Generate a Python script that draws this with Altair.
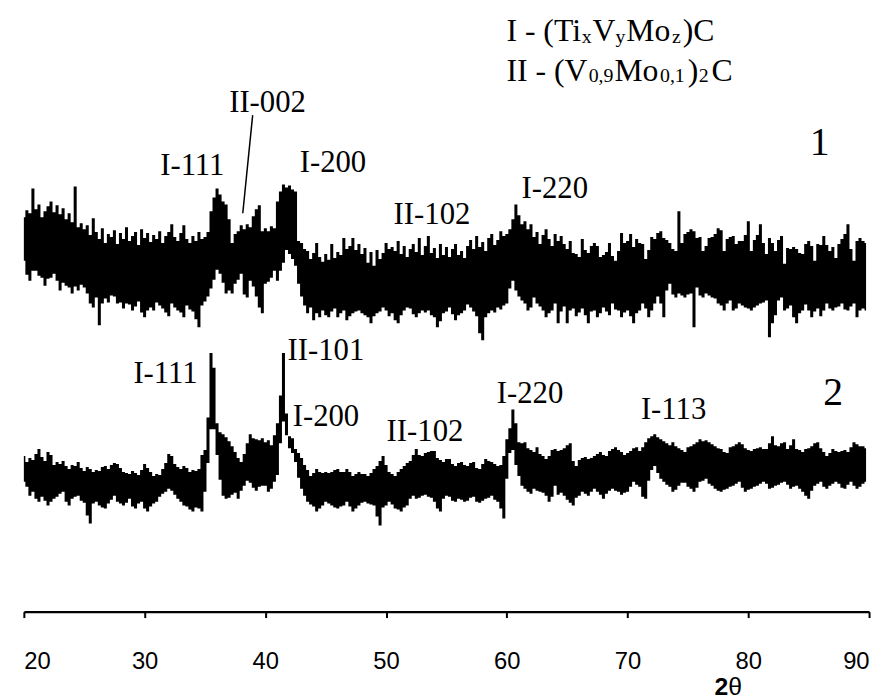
import altair as alt
import pandas as pd

# ---------------- data ----------------
START_DEG = 20.0
STEP_DEG = 0.25

# pattern 1: upper / lower envelope of the noisy trace (arbitrary intensity units)
U1 = [398, 405, 402, 427, 406, 411, 398, 404, 409, 414, 403, 410, 401, 407, 396, 402, 393, 429, 388, 392,
      386, 390, 380, 397, 383, 376, 387, 372, 381, 378, 385, 371, 382, 376, 388, 374, 379, 383, 370, 386,
      377, 382, 373, 380, 376, 384, 372, 379, 383, 391, 378, 374, 382, 390, 376, 372, 379, 374, 383, 376,
      378, 383, 404, 418, 427, 421, 414, 411, 396, 372, 381, 384, 390, 386, 391, 388, 399, 406, 410, 384,
      387, 384, 389, 387, 414, 424, 431, 428, 430, 426, 424, 374, 372, 366, 364, 356, 362, 372, 358, 353,
      361, 355, 371, 357, 363, 360, 377, 366, 369, 377, 365, 371, 361, 367, 352, 363, 349, 365, 356, 362,
      372, 366, 368, 364, 374, 361, 369, 358, 366, 371, 363, 377, 360, 369, 379, 362, 367, 357, 371, 360,
      368, 358, 366, 371, 360, 364, 357, 369, 375, 366, 379, 368, 373, 364, 377, 381, 370, 375, 384, 379,
      381, 386, 396, 411, 400, 391, 394, 386, 391, 378, 383, 371, 380, 386, 376, 369, 381, 374, 379, 371,
      366, 374, 362, 361, 358, 376, 365, 362, 369, 372, 369, 358, 360, 363, 372, 359, 354, 364, 382, 372,
      374, 381, 368, 376, 372, 371, 356, 365, 378, 376, 382, 384, 377, 375, 372, 366, 364, 404, 372, 381,
      383, 386, 384, 377, 378, 364, 369, 377, 378, 381, 387, 385, 364, 376, 378, 379, 371, 374, 374, 380,
      394, 364, 375, 380, 391, 372, 361, 377, 372, 364, 375, 379, 351, 367, 366, 368, 366, 362, 361, 371,
      374, 369, 354, 371, 370, 379, 370, 364, 368, 357, 371, 376, 381, 391, 366, 354, 374, 377, 374, 372]
L1 = [354, 340, 334, 344, 344, 339, 337, 329, 336, 337, 341, 334, 324, 332, 329, 327, 321, 328, 324, 330,
      327, 321, 311, 307, 317, 289, 311, 316, 312, 319, 318, 311, 312, 306, 311, 310, 304, 308, 313, 302,
      297, 304, 307, 304, 312, 309, 306, 302, 298, 311, 307, 304, 302, 297, 309, 305, 303, 295, 287, 309,
      313, 318, 326, 335, 345, 341, 332, 321, 324, 321, 331, 335, 341, 320, 317, 334, 328, 318, 307, 301,
      331, 333, 337, 344, 334, 344, 352, 365, 361, 356, 349, 331, 318, 309, 301, 307, 294, 301, 297, 304,
      299, 297, 303, 306, 297, 301, 304, 294, 298, 301, 303, 304, 301, 299, 297, 291, 298, 301, 303, 307,
      304, 298, 301, 294, 291, 299, 304, 307, 306, 300, 297, 301, 304, 302, 304, 299, 297, 287, 293, 301,
      303, 307, 300, 294, 299, 301, 304, 310, 307, 303, 298, 281, 274, 297, 301, 304, 302, 307, 305, 309,
      311, 326, 334, 324, 318, 314, 311, 304, 307, 317, 311, 308, 304, 297, 301, 304, 311, 291, 303, 308,
      291, 304, 306, 298, 302, 306, 299, 291, 303, 304, 297, 301, 307, 303, 299, 311, 305, 304, 297, 302,
      304, 298, 291, 301, 304, 311, 306, 297, 304, 311, 318, 311, 297, 324, 331, 320, 317, 321, 319, 317,
      320, 321, 287, 327, 319, 317, 321, 319, 317, 316, 311, 309, 304, 311, 314, 304, 306, 311, 309, 307,
      306, 304, 307, 309, 311, 312, 314, 277, 291, 299, 314, 317, 304, 306, 309, 297, 291, 301, 304, 310,
      304, 297, 303, 306, 298, 304, 311, 306, 304, 307, 308, 311, 305, 304, 308, 311, 297, 304, 306, 304]

# pattern 2
U2 = [157, 151, 155, 153, 159, 164, 156, 152, 161, 158, 148, 151, 149, 152, 147, 144, 148, 147, 151, 145,
      142, 146, 144, 141, 143, 142, 146, 147, 144, 148, 150, 149, 145, 141, 140, 139, 142, 140, 138, 143,
      149, 145, 141, 137, 139, 138, 144, 150, 159, 157, 149, 146, 144, 147, 145, 141, 143, 142, 144, 158,
      163, 196, 261, 246, 190, 181, 179, 176, 172, 167, 161, 155, 151, 159, 170, 179, 175, 174, 173, 175,
      171, 173, 168, 178, 190, 218, 261, 200, 177, 175, 164, 160, 155, 148, 143, 137, 140, 144, 141, 140,
      141, 140, 141, 143, 144, 141, 141, 144, 141, 137, 139, 141, 139, 139, 137, 140, 144, 147, 152, 157,
      148, 141, 139, 137, 141, 144, 147, 150, 152, 158, 164, 158, 157, 160, 161, 162, 162, 155, 153, 151,
      154, 154, 149, 147, 150, 151, 148, 147, 150, 151, 145, 144, 149, 154, 152, 151, 149, 147, 148, 157,
      174, 185, 204, 190, 171, 170, 171, 165, 163, 161, 166, 159, 157, 154, 157, 163, 164, 162, 163, 165,
      168, 170, 152, 147, 153, 155, 156, 154, 155, 157, 159, 161, 158, 157, 162, 164, 166, 163, 161, 158,
      160, 162, 165, 166, 162, 166, 171, 175, 177, 179, 176, 174, 172, 170, 168, 171, 167, 165, 163, 161,
      166, 167, 169, 171, 174, 172, 173, 171, 169, 167, 165, 164, 161, 160, 166, 167, 169, 171, 169, 165,
      163, 162, 164, 165, 166, 164, 164, 170, 177, 168, 167, 170, 171, 164, 168, 174, 164, 163, 161, 164,
      165, 167, 170, 171, 165, 161, 157, 160, 164, 162, 161, 162, 163, 161, 166, 171, 169, 167, 167, 165]
L2 = [131, 126, 117, 121, 114, 111, 116, 112, 107, 111, 114, 116, 119, 121, 111, 107, 114, 116, 117, 112,
      110, 97, 89, 109, 111, 107, 105, 104, 109, 113, 117, 111, 109, 107, 110, 114, 106, 104, 109, 111,
      104, 101, 106, 109, 111, 116, 119, 121, 124, 122, 118, 114, 111, 107, 106, 103, 101, 105, 104, 101,
      121, 150, 184, 184, 158, 133, 117, 114, 115, 118, 120, 114, 122, 127, 132, 130, 125, 122, 126, 127,
      127, 121, 124, 131, 138, 170, 192, 178, 165, 160, 151, 135, 124, 117, 111, 108, 106, 101, 104, 107,
      111, 109, 107, 105, 104, 106, 107, 111, 106, 101, 104, 107, 110, 111, 109, 108, 107, 96, 87, 105,
      107, 111, 108, 104, 103, 101, 105, 107, 114, 117, 114, 115, 117, 118, 116, 115, 111, 104, 101, 114,
      117, 116, 112, 111, 114, 113, 111, 112, 115, 116, 111, 110, 112, 114, 115, 117, 113, 111, 104, 94,
      134, 160, 163, 148, 137, 127, 124, 121, 119, 124, 122, 121, 120, 117, 111, 116, 127, 118, 120, 117,
      113, 110, 107, 115, 117, 121, 119, 117, 121, 124, 121, 118, 114, 119, 122, 124, 122, 121, 118, 120,
      121, 126, 131, 128, 126, 116, 114, 132, 143, 147, 140, 134, 131, 128, 126, 121, 123, 127, 130, 130,
      126, 124, 121, 125, 131, 132, 134, 129, 127, 124, 122, 121, 123, 124, 126, 127, 129, 131, 125, 121,
      123, 124, 126, 127, 129, 131, 129, 124, 125, 127, 128, 130, 131, 128, 124, 126, 127, 124, 121, 117,
      114, 122, 127, 129, 131, 126, 124, 127, 129, 131, 129, 125, 124, 128, 131, 127, 124, 126, 129, 131]

TICKS = [20, 30, 40, 50, 60, 70, 80, 90]

# peak labels: text, 2theta position, intensity of the label baseline
PEAK_TEXT = ["I-111", "II-002", "I-200", "II-102", "I-220",
             "I-111", "II-101", "I-200", "II-102", "I-220", "I-113"]
PEAK_DEG = [33.95, 40.18, 45.6, 53.8, 63.97,
            31.73, 45.02, 45.02, 53.22, 61.92, 73.81]
PEAK_VAL = [441, 504, 444, 391, 417,
            231, 254, 187, 172, 211, 194]

CURVE_TEXT = ["1", "2"]
CURVE_DEG = [85.9, 87.02]
CURVE_VAL = [461, 209]

# leader line from "II-002"
LEAD_DEG = [38.95, 38.13]
LEAD_VAL = [501, 402]

# ---------------- layout helpers ----------------
W, H = 853, 606
X0, Y0 = 24, 8           # page position of plot area's top-left corner
DOM = [20, 90]
VDOM = [0, H]
SANS = "Liberation Sans, Arial, sans-serif"


def px_to_deg(px):
    return DOM[0] + (px - X0) * (DOM[1] - DOM[0]) / W


def py_to_val(py):
    return (Y0 + H) - py


n = len(U1)
deg = [START_DEG + STEP_DEG * i for i in range(n)]
df = pd.DataFrame({
    "deg": deg * 2,
    "hi": U1 + U2,
    "lo": L1 + L2,
    "trace": ["1"] * n + ["2"] * n,
})

xs = alt.Scale(domain=DOM, nice=False, zero=False)
ys = alt.Scale(domain=VDOM, nice=False, zero=False)

traces = alt.Chart(df).mark_area(interpolate="step", color="black", opacity=1).encode(
    x=alt.X("deg:Q", scale=xs, axis=alt.Axis(
        values=TICKS, title=None, grid=False,
        labelFont=SANS,
        labelFontSize=24, labelColor="black", labelPadding=32,
        domainColor="black", domainWidth=2.5,
        tickColor="black", tickWidth=2, tickSize=6)),
    y=alt.Y("hi:Q", scale=ys, axis=None),
    y2="lo:Q",
    detail="trace:N",
)

lab_df = pd.DataFrame({"deg": PEAK_DEG, "val": PEAK_VAL, "t": PEAK_TEXT})
labels = alt.Chart(lab_df).mark_text(
    font="Liberation Serif", fontSize=31, align="center", baseline="alphabetic", color="black"
).encode(x=alt.X("deg:Q", scale=xs), y=alt.Y("val:Q", scale=ys), text="t:N")

cur_df = pd.DataFrame({"deg": CURVE_DEG, "val": CURVE_VAL, "t": CURVE_TEXT})
curve_lab = alt.Chart(cur_df).mark_text(
    font="Liberation Serif", fontSize=40, align="center", baseline="alphabetic", color="black"
).encode(x=alt.X("deg:Q", scale=xs), y=alt.Y("val:Q", scale=ys), text="t:N")

lead_df = pd.DataFrame({"d1": [LEAD_DEG[0]], "v1": [LEAD_VAL[0]],
                        "d2": [LEAD_DEG[1]], "v2": [LEAD_VAL[1]]})
leader = alt.Chart(lead_df).mark_rule(color="black", strokeWidth=1.5).encode(
    x=alt.X("d1:Q", scale=xs), y=alt.Y("v1:Q", scale=ys), x2="d2:Q", y2="v2:Q")

# legend (phase names) built from normal-size pieces and subscript pieces
big_pieces = [("I - (Ti", 511, 38), ("V", 598, 38), ("Mo", 632, 38), (")C", 689, 38),
              ("II - (V", 511, 78), ("Mo", 620, 78), (")", 694, 78), ("C", 718, 78)]
sub_pieces = [("x", 587, 40), ("y", 621, 40), ("z", 678, 40),
              ("0,9", 594, 80), ("0,1", 666, 80), ("2", 705, 80)]

big_df = pd.DataFrame({"t": [p[0] for p in big_pieces],
                       "deg": [px_to_deg(p[1]) for p in big_pieces],
                       "val": [py_to_val(p[2]) for p in big_pieces]})
sub_df = pd.DataFrame({"t": [p[0] for p in sub_pieces],
                       "deg": [px_to_deg(p[1]) for p in sub_pieces],
                       "val": [py_to_val(p[2]) for p in sub_pieces]})

leg_big = alt.Chart(big_df).mark_text(
    font="Liberation Serif", fontSize=32, align="left", baseline="alphabetic", color="black"
).encode(x=alt.X("deg:Q", scale=xs), y=alt.Y("val:Q", scale=ys), text="t:N")
leg_sub = alt.Chart(sub_df).mark_text(
    font="Liberation Serif", fontSize=20, align="left", baseline="alphabetic", color="black"
).encode(x=alt.X("deg:Q", scale=xs), y=alt.Y("val:Q", scale=ys), text="t:N")

# axis title 2θ
t2_df = pd.DataFrame({"t": ["2"], "deg": [px_to_deg(735)], "val": [py_to_val(698)]})
th_df = pd.DataFrame({"t": ["θ"], "deg": [px_to_deg(735)], "val": [py_to_val(698)]})
title2 = alt.Chart(t2_df).mark_text(
    font=SANS, fontSize=25, fontWeight="bold", align="right", baseline="alphabetic", color="black"
).encode(x=alt.X("deg:Q", scale=xs), y=alt.Y("val:Q", scale=ys), text="t:N")
titleth = alt.Chart(th_df).mark_text(
    font=SANS, fontSize=25, align="left", baseline="alphabetic", color="black"
).encode(x=alt.X("deg:Q", scale=xs), y=alt.Y("val:Q", scale=ys), text="t:N")

chart = alt.layer(traces, leader, labels, curve_lab, leg_big, leg_sub, title2, titleth).properties(
    width=W, height=H,
    autosize=alt.AutoSizeParams(type="none"),
    padding={"left": 16, "top": 0, "right": 8, "bottom": 86},
    background="white",
).configure_view(stroke=None)

chart.save("out.html", embed_options={"renderer": "svg", "actions": False})
